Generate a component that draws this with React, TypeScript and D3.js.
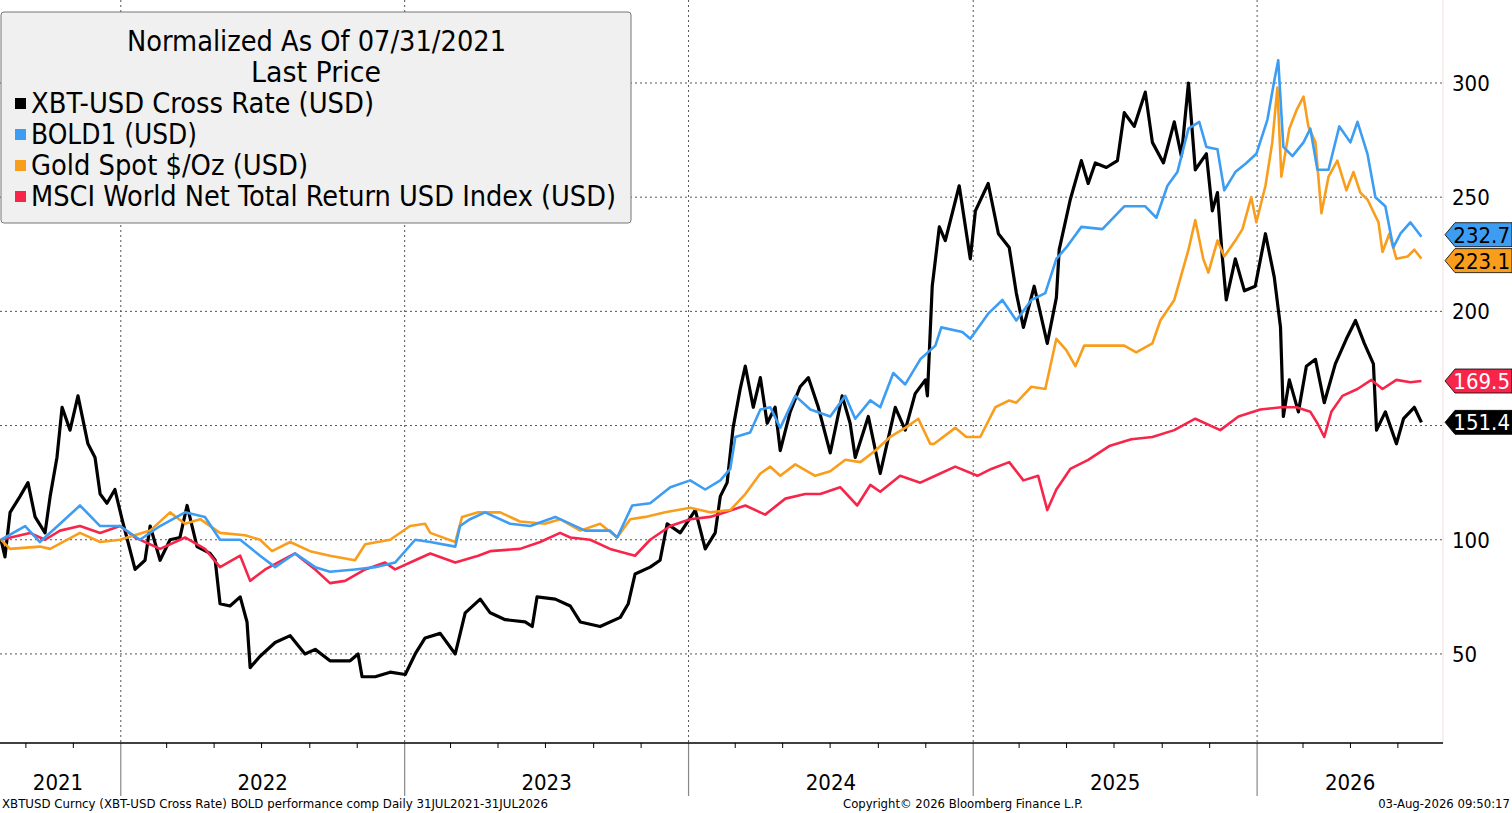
import React from "react";
import * as d3 from "d3";

// time is in years since 31 Jul 2021
const btcT = [0,.014,.032,.067,.095,.120,.155,.173,.197,.215,.243,.271,.306,.331,.349,.373,.401,.426,.472,.507,.525,.560,.595,.630,.655,.690,.736,.754,.771,.806,.842,.866,.877,.912,.965,1.018,1.070,1.106,1.158,1.229,1.257,1.271,1.317,1.370,1.423,1.458,1.493,1.546,1.599,1.634,1.687,1.722,1.775,1.845,1.870,1.887,1.951,2.004,2.039,2.109,2.180,2.208,2.232,2.285,2.320,2.345,2.391,2.444,2.479,2.514,2.532,2.556,2.577,2.602,2.620,2.648,2.673,2.697,2.725,2.743,2.778,2.813,2.842,2.877,2.919,2.961,2.989,3.007,3.053,3.095,3.148,3.183,3.218,3.254,3.261,3.278,3.303,3.324,3.373,3.412,3.430,3.475,3.511,3.549,3.574,3.599,3.637,3.683,3.715,3.725,3.764,3.803,3.827,3.852,3.891,3.930,3.954,3.989,4.028,4.053,4.092,4.130,4.155,4.180,4.204,4.243,4.264,4.282,4.299,4.313,4.345,4.377,4.415,4.451,4.482,4.504,4.514,4.535,4.567,4.595,4.627,4.658,4.697,4.736,4.768,4.799,4.831,4.842,4.873,4.912,4.937,4.975,5.000];
const btcV = [100,92.5,112,119,125,110,103,119,136,158,148,163,142,136,120,116,122,109,87,91,106,91,100,101,115,97,94,91,72,71,75,64,44,49,55,58,50,52,47,47,50,40,40,42,41,50,57,59,50,68,74,68,65,64,62,75,74,71,64,62,66,72,85,88,91,107,103,113,96,103,119,125,149,166,176,158,171,151,158,139,156,167,171,158,138,163,151,136,154,129,158,148,164,170,163,211,237,231,255,223,244,256,234,228,208,193,211,186,206,227,249,266,256,265,263,266,287,281,296,274,265,283,268,300,262,269,244,252,224,205,223,209,211,234,215,193,154,170,156,176,179,160,177,188,196,186,177,148,156,142,153,158,151.4];

const boldT = [0,.085,.137,.208,.278,.349,.419,.489,.560,.648,.718,.771,.842,.912,.965,1.035,1.106,1.158,1.246,1.317,1.387,1.458,1.511,1.599,1.616,1.651,1.704,1.792,1.863,1.951,2.056,2.144,2.169,2.222,2.285,2.356,2.426,2.479,2.532,2.567,2.585,2.637,2.673,2.708,2.743,2.796,2.849,2.919,2.972,3.007,3.060,3.095,3.141,3.183,3.236,3.289,3.310,3.384,3.412,3.475,3.525,3.574,3.627,3.676,3.715,3.750,3.803,3.877,3.954,4.028,4.067,4.106,4.141,4.180,4.218,4.243,4.282,4.306,4.345,4.384,4.419,4.458,4.482,4.496,4.514,4.546,4.585,4.609,4.634,4.673,4.711,4.750,4.775,4.810,4.838,4.873,4.901,4.926,4.961,5.000];
const boldV = [100,106,99,107,115,106,106,100,106,112,110,100,100,93,88,94,88,86,87,88,90,100,99,97,106,109,112,107,106,110,104,104,101,115,116,123,126,122,126,131,145,147,157,158,149,163,157,154,163,153,161,158,173,168,179,185,193,191,188,199,205,196,205,208,223,228,237,236,246,246,241,255,261,280,283,272,271,253,261,265,269,284,301,310,272,268,274,280,262,262,281,274,283,269,250,246,228,234,239,232.7];

const goldT = [0,.032,.137,.173,.278,.349,.419,.525,.595,.648,.701,.771,.859,.912,.954,1.018,1.088,1.158,1.246,1.282,1.370,1.440,1.493,1.511,1.599,1.623,1.680,1.697,1.757,1.827,1.915,1.968,2.039,2.109,2.169,2.215,2.268,2.338,2.426,2.496,2.567,2.620,2.673,2.708,2.743,2.796,2.866,2.919,2.972,3.025,3.077,3.130,3.183,3.229,3.271,3.285,3.359,3.398,3.447,3.500,3.549,3.574,3.627,3.676,3.715,3.750,3.782,3.813,3.877,3.954,3.996,4.053,4.081,4.130,4.180,4.204,4.232,4.250,4.282,4.306,4.345,4.370,4.401,4.419,4.451,4.475,4.493,4.507,4.535,4.560,4.585,4.602,4.627,4.648,4.673,4.704,4.736,4.761,4.785,4.810,4.849,4.863,4.887,4.912,4.951,4.975,5.000];
const goldV = [100,96,97,96,103,99,100,104,112,107,109,103,102,100,95,99,95,93,91,98,100,106,107,103,99,110,112,112,112,108,107,109,104,107,101,109,110,112,114,112,113,120,129,132,128,133,128,130,135,134,139,145,149,153,142,142,149,145,145,158,161,160,167,166,188,183,176,185,185,185,182,186,196,205,227,240,223,217,231,224,231,236,250,239,255,274,298,259,280,288,294,281,274,243,259,266,253,261,252,249,239,226,234,223,224,227,223.1];

const msciT = [0,.102,.155,.208,.278,.349,.419,.472,.560,.648,.718,.771,.842,.877,.930,1.035,1.106,1.158,1.211,1.282,1.352,1.387,1.458,1.511,1.599,1.680,1.722,1.827,1.898,1.968,2.004,2.074,2.144,2.232,2.285,2.356,2.426,2.496,2.549,2.620,2.690,2.761,2.831,2.884,2.954,3.014,3.060,3.095,3.165,3.236,3.289,3.359,3.437,3.486,3.549,3.599,3.651,3.683,3.715,3.764,3.827,3.901,3.979,4.053,4.130,4.204,4.292,4.356,4.433,4.507,4.560,4.609,4.634,4.658,4.683,4.722,4.775,4.824,4.863,4.912,4.961,5.000];
const msciV = [100,103,100,104,106,103,106,101,96,101,96,88,93,82,87,94,87,81,82,87,90,87,91,94,90,93,95,96,99,103,101,100,96,93,100,106,109,110,112,115,111,118,120,120,123,115,124,121,128,125,128,132,128,131,134,126,128,113,122,131,135,141,144,145,148,153,148,154,157,158,158,156,151,145,156,163,166,170,166,170,169,169.5];

const seriesNames = ["XBT-USD Cross Rate (USD)", "BOLD1 (USD)", "Gold Spot $/Oz (USD)", "MSCI World Net Total Return USD Index (USD)"];
const seriesColors = ["#000000", "#3d9df3", "#f99e1c", "#f7254a"];
const lastLabels = ["151.4", "232.7", "223.1", "169.5"];
const yTicks = [50, 100, 150, 200, 250, 300];
const yTickLabels = ["50", "100", "", "200", "250", "300"];
const yearLabels = ["2021", "2022", "2023", "2024", "2025", "2026"];

const W = 1512, H = 813;
const start = new Date(2021, 6, 31);
const toDate = (t: number) => new Date(start.getTime() + t * 365.25 * 86400000);

export default function App() {
  const x = d3.scaleTime().domain([start, new Date(2026, 7, 28)]).range([1, 1443]);
  const y = d3.scaleLinear().domain([11, 300]).range([743, 83]);
  const all = [
    { t: btcT, v: btcV },
    { t: boldT, v: boldV },
    { t: goldT, v: goldV },
    { t: msciT, v: msciV },
  ];
  const line = d3.line<[number, number]>().x(d => x(toDate(d[0]))).y(d => y(d[1]));
  const order = [0, 3, 2, 1];
  const years = [2022, 2023, 2024, 2025, 2026].map(yy => new Date(yy, 0, 1));
  const bounds = [0, ...years.map(d => x(d)), 1443];
  const monthTicks = d3.timeMonth.every(2)!.range(new Date(2021, 7, 1), new Date(2026, 7, 2)).filter(d => d.getMonth() !== 0);
  const font = "'DejaVu Sans Condensed', 'DejaVu Sans', sans-serif";
  return (
    <svg width={W} height={H} style={{ position: "fixed", left: 0, top: 0, background: "#fff" }} fontFamily={font}>
      <rect width={W} height={H} fill="#fff" />
      {yTicks.map((v, i) => (
        <g key={v}>
          <line x1={0} x2={1443} y1={y(v)} y2={y(v)} stroke="#555" strokeDasharray="2,3" strokeWidth={1} />
          {yTickLabels[i] && <text x={1452} y={y(v) + 8} fontSize={22} fill="#000">{yTickLabels[i]}</text>}
        </g>
      ))}
      {years.map((d, i) => (
        <g key={i}>
          <line x1={x(d)} x2={x(d)} y1={0} y2={743} stroke="#555" strokeDasharray="2,3" />
          <line x1={x(d)} x2={x(d)} y1={743} y2={796} stroke="#888" strokeWidth={1.2} />
        </g>
      ))}
      <line x1={1443} x2={1443} y1={0} y2={743} stroke="#f3dede" />
      <line x1={0} x2={1443} y1={743} y2={743} stroke="#000" strokeWidth={1.5} />
      {monthTicks.map((d, i) => (
        <line key={i} x1={x(d)} x2={x(d)} y1={743} y2={748} stroke="#000" />
      ))}
      {yearLabels.map((lab, i) => (
        <text key={lab} x={i === 0 ? 58 : (bounds[i] + bounds[i + 1]) / 2} y={790} fontSize={22} textAnchor="middle">{lab}</text>
      ))}
      {order.map(i => (
        <path key={i} d={line(all[i].t.map((t, k) => [t, all[i].v[k]]) as [number, number][]) || ""} fill="none" stroke={seriesColors[i]} strokeWidth={i === 0 ? 3.2 : 2.6} strokeLinejoin="round" />
      ))}
      {[1, 2, 3, 0].map(i => {
        const v = +lastLabels[i];
        const yy = y(v) + (i === 1 ? -2 : i === 2 ? 2 : 0);
        const light = i === 0 || i === 3;
        return (
          <g key={i}>
            <path d={`M1445,${yy} L1455,${yy - 12} L1512,${yy - 12} L1512,${yy + 12} L1455,${yy + 12} Z`} fill={seriesColors[i]} stroke="#000" strokeWidth={0.8} />
            <text x={1510} y={yy + 8} fontSize={22} textAnchor="end" fill={light ? "#fff" : "#000"}>{lastLabels[i]}</text>
          </g>
        );
      })}
      <rect x={1} y={12} width={630} height={211} rx={3} fill="#f0f0f0" stroke="#777" />
      <text x={127} y={51} fontSize={28} textLength={379} lengthAdjust="spacingAndGlyphs">Normalized As Of 07/31/2021</text>
      <text x={251} y={82} fontSize={28} textLength={130} lengthAdjust="spacingAndGlyphs">Last Price</text>
      {seriesNames.map((n, i) => (
        <g key={n}>
          <rect x={15} y={98 + i * 31} width={11} height={11} fill={seriesColors[i]} />
          <text x={31} y={113 + i * 31} fontSize={28} textLength={[343, 166, 277, 585][i]} lengthAdjust="spacingAndGlyphs">{n}</text>
        </g>
      ))}
      <text x={2} y={808} fontSize={13} textLength={546} lengthAdjust="spacingAndGlyphs">XBTUSD Curncy (XBT-USD Cross Rate) BOLD performance comp Daily 31JUL2021-31JUL2026</text>
      <text x={843} y={808} fontSize={13} textLength={240} lengthAdjust="spacingAndGlyphs">Copyright© 2026 Bloomberg Finance L.P.</text>
      <text x={1510} y={808} fontSize={13} textAnchor="end">03-Aug-2026 09:50:17</text>
    </svg>
  );
}
